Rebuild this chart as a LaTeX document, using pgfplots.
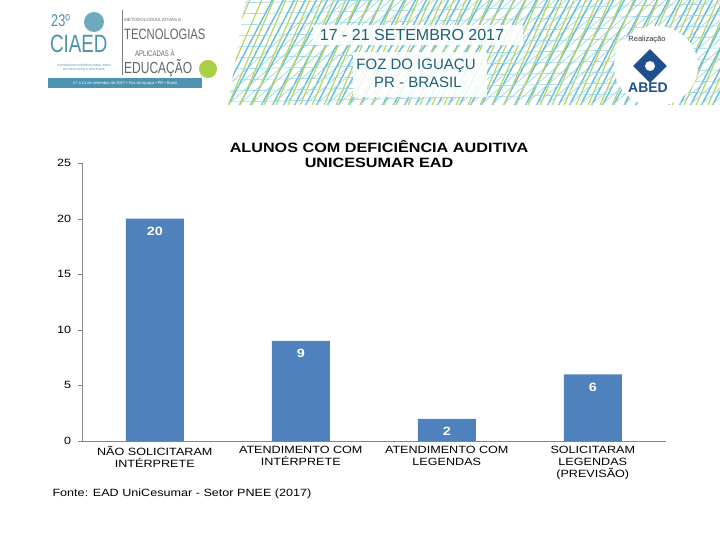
\documentclass[border=0pt]{standalone}
\usepackage{fontspec}
\setmainfont[FakeStretch=1.2]{Liberation Sans}
\newfontfamily\bn{Liberation Sans}
\newfontfamily\cond[FakeStretch=0.75]{Liberation Sans}
\usepackage{pgfplots}
\pgfplotsset{compat=1.18}
\definecolor{barblue}{HTML}{4F81BD}
\definecolor{axgray}{HTML}{868686}
\definecolor{teal1}{HTML}{2FA8C8}
\definecolor{green1}{HTML}{A9CF45}
\definecolor{dteal}{HTML}{1D5F73}
\definecolor{ciaed}{HTML}{4B93AE}
\definecolor{abed}{HTML}{1F4F8F}

\begin{document}
\begin{tikzpicture}[x=1pt,y=1pt]
\path[use as bounding box] (0,0) rectangle (720,540);
% ---- banner (approximation of the header image)
\begin{scope}
  \clip (0,435) rectangle (720,540);
  \fill[white] (0,435) rectangle (720,540);
  \foreach \i in {0,...,10} {
    \draw[teal1!25, line width=0.8pt] (-20+\i*22,430) -- (30+\i*22,545);
  }
  \fill[white] (0,435) rectangle (225,540);
  \foreach \i in {0,...,46} {
    \draw[teal1!75, line width=1.4pt] (215+\i*11,430) -- (275+\i*11,545);
    \draw[green1!85, line width=1.2pt] (190+\i*12,430) -- (240+\i*12,545);
    \draw[teal1!45, line width=0.7pt] (200+\i*11,430) -- (330+\i*11,545);
  }
  \foreach \j in {0,...,9} {
    \draw[teal1!50, line width=0.6pt] (230,438+\j*11) -- (720,448+\j*11);
  }
  \fill[white] (0,435) -- (228,435) -- (245,540) -- (0,540) -- cycle;
  \fill[white] (656,474) ellipse (42 and 40);
  \fill[white, opacity=0.88] (313,495) rectangle (523,515);
  \fill[white, opacity=0.88] (353,443) rectangle (487,488);
\end{scope}
\fill[ciaed!80] (94,518) circle (10);
\node[ciaed, font=\cond\fontsize{17}{17}\selectfont, anchor=base west, inner sep=0] at (51,513) {23º};
\node[ciaed, font=\cond\fontsize{25}{25}\selectfont, anchor=base west, inner sep=0] at (50,487) {CIAED};
\node[ciaed, font=\bn\fontsize{3}{3.5}\selectfont, align=center] at (84,472) {CONGRESSO INTERNACIONAL ABED\\DE EDUCAÇÃO A DISTÂNCIA};
\draw[gray] (122,530) -- (122,465);
\node[gray!80!black, font=\bn\fontsize{4.5}{5}\selectfont, anchor=base west, inner sep=0] at (124,518) {METODOLOGIAS ATIVAS E};
\node[gray!80!black, font=\cond\fontsize{15}{15}\selectfont, anchor=base west, inner sep=0] at (124,500) {TECNOLOGIAS};
\node[gray!80!black, font=\cond\fontsize{8}{8}\selectfont, anchor=base west, inner sep=0] at (135,483) {APLICADAS À};
\node[gray!80!black, font=\cond\fontsize{16}{16}\selectfont, anchor=base west, inner sep=0] at (124,466) {EDUCAÇÃO};
\fill[green1] (208,471) circle (9);
\fill[ciaed] (48,452) rectangle (202,462);
\node[white, font=\bn\fontsize{4}{4}\selectfont] at (125,457) {17 a 21 de setembro de 2017 • Foz do Iguaçu • PR • Brasil};
\node[dteal, font=\bn\fontsize{16}{16}\selectfont] at (412,505) {17 - 21 SETEMBRO 2017};
\node[dteal, font=\bn\fontsize{15}{15}\selectfont] at (416,474) {FOZ DO IGUAÇU};
\node[dteal, font=\bn\fontsize{15}{15}\selectfont] at (418,458) {PR - BRASIL};
\node[black!80, font=\bn\fontsize{7.5}{8}\selectfont] at (647,500) {Realização};
\fill[abed, rotate around={45:(650,474)}] (638,462) rectangle (662,486);
\fill[white] (650,474) circle (5);
\node[abed, font=\bn\bfseries\fontsize{14}{14}\selectfont] at (648,452) {ABED};
% ---- chart
\node[font=\bfseries\fontsize{13.5}{15}\selectfont, align=center] at (379,386) {ALUNOS COM DEFICIÊNCIA AUDITIVA\\UNICESUMAR EAD};
\begin{axis}[
  at={(56,89)}, anchor=south west,
  scale only axis, width=584pt, height=278pt,
  xmin=-0.5, xmax=3.5, ymin=0, ymax=25,
  axis x line*=bottom, axis y line*=left,
  axis line style={axgray, -},
  tick style={axgray},
  tick align=outside,
  ytick={0,5,...,25},
  major tick length=4pt,
  xtick={0,1,2,3},
  xticklabels={{NÃO SOLICITARAM\\INTÉRPRETE},{ATENDIMENTO COM\\INTÉRPRETE},{ATENDIMENTO COM\\LEGENDAS},{SOLICITARAM\\LEGENDAS\\(PREVISÃO)}},
  xticklabel style={align=center, font=\fontsize{10.5}{12}\selectfont, yshift=2pt},
  x tick style={draw=none},
  extra x ticks={-0.5,0.5,1.5,2.5,3.5},
  extra x tick labels={},
  extra x tick style={tick style={axgray, draw=axgray}},
  yticklabel style={font=\fontsize{10.5}{12}\selectfont, xshift=-3pt},
  /pgf/number format/assume math mode=true,
  clip=false,
]
\addplot[ybar, bar width=58pt, fill=barblue, draw=none,
  nodes near coords,
  every node near coord/.append style={anchor=north, yshift=-5pt, white, font=\bfseries\fontsize{12}{12}\selectfont}]
  coordinates {(0,20) (1,9) (2,2) (3,6)};
\end{axis}
\node[anchor=base west, font=\fontsize{10.5}{12}\selectfont] at (49,43) {Fonte: EAD UniCesumar - Setor PNEE (2017)};
\end{tikzpicture}
\end{document}
